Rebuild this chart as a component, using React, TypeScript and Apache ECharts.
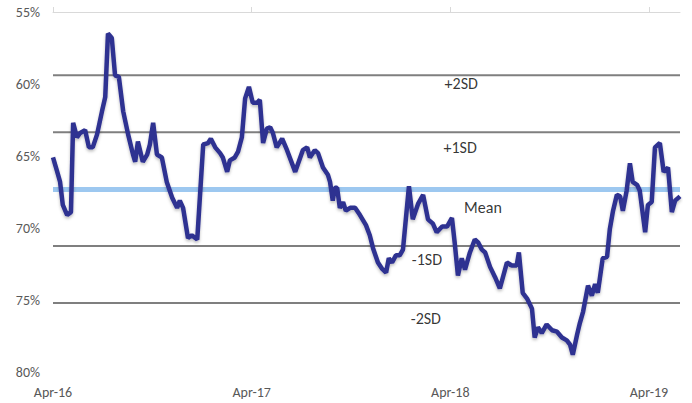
import React, { useEffect, useRef } from "react";
import * as echarts from "echarts";

// Observation dates and values (%)
const dates: string[] = [
  "2016-04-01","2016-04-08","2016-04-14","2016-04-19","2016-04-27","2016-05-04","2016-05-08","2016-05-15","2016-05-21","2016-05-30",
  "2016-06-06","2016-06-13","2016-06-21","2016-06-30","2016-07-06","2016-07-11","2016-07-18","2016-07-24","2016-07-31","2016-08-08",
  "2016-08-17","2016-08-26","2016-08-30","2016-09-04","2016-09-13","2016-09-21","2016-09-26","2016-10-02","2016-10-09","2016-10-18",
  "2016-10-27","2016-11-06","2016-11-15","2016-11-20","2016-11-26","2016-12-05","2016-12-12","2016-12-22","2017-01-02","2017-01-11",
  "2017-01-16","2017-01-24","2017-02-02","2017-02-07","2017-02-15","2017-02-20","2017-03-01","2017-03-07","2017-03-14","2017-03-20",
  "2017-03-27","2017-04-03","2017-04-11","2017-04-16","2017-04-22","2017-04-29","2017-05-05","2017-05-10","2017-05-17","2017-05-27",
  "2017-06-05","2017-06-20","2017-07-04","2017-07-12","2017-07-17","2017-07-26","2017-08-01","2017-08-10","2017-08-19","2017-08-23",
  "2017-08-28","2017-09-01","2017-09-05","2017-09-10","2017-09-16","2017-09-21","2017-09-29","2017-10-08","2017-10-17","2017-10-28",
  "2017-11-04","2017-11-10","2017-11-19","2017-11-26","2017-12-04","2017-12-09","2017-12-15","2017-12-22","2017-12-29","2018-01-04",
  "2018-01-15","2018-01-22","2018-02-01","2018-02-10","2018-02-19","2018-02-28","2018-03-07","2018-03-17","2018-03-26","2018-04-04",
  "2018-04-09","2018-04-15","2018-04-22","2018-04-28","2018-05-07","2018-05-16","2018-05-22","2018-05-29","2018-06-04","2018-06-13",
  "2018-06-22","2018-07-01","2018-07-14","2018-07-23","2018-08-01","2018-08-05","2018-08-12","2018-08-20","2018-08-29","2018-09-03",
  "2018-09-09","2018-09-16","2018-09-25","2018-10-05","2018-10-14","2018-10-23","2018-11-01","2018-11-07","2018-11-12","2018-11-20",
  "2018-11-25","2018-12-01","2018-12-10","2018-12-17","2018-12-23","2018-12-28","2019-01-06","2019-01-14","2019-01-19","2019-01-25",
  "2019-02-01","2019-02-07","2019-02-12","2019-02-19","2019-02-25","2019-03-02","2019-03-10","2019-03-15","2019-03-25","2019-03-30",
  "2019-04-06","2019-04-12","2019-04-21","2019-04-28","2019-05-06","2019-05-13","2019-05-19","2019-05-28"
];
const values: number[] = [
  65.1,66.0,66.8,68.4,69.1,68.9,62.7,63.7,63.4,63.2,
  64.4,64.4,63.5,61.9,60.9,56.5,56.8,59.4,59.5,61.9,
  63.5,64.9,65.4,64.0,65.4,64.9,64.2,62.7,64.9,65.1,
  66.8,67.9,68.6,68.1,68.6,70.7,70.5,70.8,64.2,64.1,
  63.8,64.4,64.8,65.1,66.1,65.3,65.1,64.7,63.7,61.0,
  60.2,61.3,61.3,61.1,64.1,63.1,63.0,63.4,64.4,63.8,
  64.6,66.1,64.6,64.4,65.1,64.6,64.8,65.8,66.3,66.8,
  68.1,67.2,67.2,68.6,68.2,68.8,68.6,68.6,69.1,69.8,
  70.5,71.4,72.4,72.8,73.1,72.1,72.4,71.9,71.9,71.5,
  67.1,69.4,68.3,67.7,69.4,69.7,70.3,69.9,69.9,69.3,
  71.0,73.3,72.1,72.9,71.7,70.8,71.0,71.5,71.7,72.7,
  73.4,74.2,72.4,72.6,72.6,71.7,74.5,74.9,75.6,77.6,
  76.9,77.3,76.7,77.1,77.2,77.6,77.8,78.1,78.8,77.4,
  76.6,75.8,74.0,74.7,73.9,74.5,72.1,72.0,70.1,68.8,
  67.7,67.8,68.8,67.4,65.5,66.8,67.0,67.4,70.3,68.4,
  68.2,64.4,64.1,66.1,65.8,68.9,68.1,67.8
];

// Reference bands (mean ± SD)
const bandNames: string[] = ["+2SD", "+1SD", "Mean", "-1SD", "-2SD"];
const bandValues: number[] = [59.4, 63.35, 67.33, 71.25, 75.2];

// Axis ticks
const xTickDates: string[] = ["2016-04-01", "2017-04-01", "2018-04-01", "2019-04-01"];
const xTickLabels: string[] = ["Apr-16", "Apr-17", "Apr-18", "Apr-19"];
const xStartDate = "2016-04-01";
const xEndDate = "2019-05-28";
const yTicks: number[] = [55, 60, 65, 70, 75, 80];

const BASE = Date.UTC(2016, 3, 1);
const toDay = (s: string): number => {
  const [y, m, d] = s.split("-").map(Number);
  return Math.round((Date.UTC(y, m - 1, d) - BASE) / 86400000);
};

const FONT = 'Carlito, Calibri, "Noto Sans", sans-serif';

export default function App() {
  const ref = useRef<HTMLDivElement>(null);

  useEffect(() => {
    document.body.style.margin = "0";
    if (!ref.current) return;
    const chart = echarts.init(ref.current, undefined, { renderer: "svg" });

    const tickDays = xTickDates.map(toDay);
    const x0 = toDay(xStartDate);
    const x1 = toDay(xEndDate);
    const lineData = dates.map((d, i) => [toDay(d), values[i]]);

    // label anchor positions (styling): [date, value] for each band label
    const labelAnchors: [string, number][] = [
      ["2018-04-21", 59.95],
      ["2018-04-19", 64.4],
      ["2018-05-31", 68.55],
      ["2018-02-17", 72.2],
      ["2018-02-15", 76.3],
    ];

    const bandSeries = bandValues.map((v, i) => {
      const isMean = bandNames[i] === "Mean";
      return {
        type: "line",
        name: bandNames[i],
        xAxisIndex: 0,
        data: [
          [x0, v],
          [x1, v],
        ],
        symbol: "none",
        silent: true,
        z: 1,
        lineStyle: isMean
          ? { color: "#9dc8f0", width: 5 }
          : { color: "#7f7f7f", width: 2 },
      };
    });

    const option: any = {
      animation: false,
      textStyle: { fontFamily: FONT },
      grid: { left: 53, right: 12, top: 12, bottom: 31, containLabel: false },
      xAxis: [
        {
          type: "value",
          position: "top",
          min: x0,
          max: x1,
          axisLine: { show: true, lineStyle: { color: "#d9d9d9", width: 1 } },
          axisTick: {
            show: true,
            length: 5,
            inside: false,
            customValues: tickDays,
            lineStyle: { color: "#d9d9d9" },
          },
          axisLabel: { show: false },
          splitLine: { show: false },
        },
        {
          type: "value",
          position: "bottom",
          min: x0,
          max: x1,
          axisLine: { show: false },
          axisTick: { show: false },
          splitLine: { show: false },
          axisLabel: {
            show: true,
            customValues: tickDays,
            margin: 13,
            color: "#595959",
            fontSize: 14,
            fontFamily: FONT,
            formatter: (v: number) => {
              const i = tickDays.indexOf(Math.round(v));
              return i >= 0 ? xTickLabels[i] : "";
            },
          },
        },
      ],
      yAxis: {
        type: "value",
        inverse: true,
        min: yTicks[0],
        max: yTicks[yTicks.length - 1],
        interval: 5,
        axisLine: { show: false },
        axisTick: { show: false },
        splitLine: { show: false },
        axisLabel: {
          margin: 13,
          color: "#595959",
          fontSize: 14,
          fontFamily: FONT,
          formatter: (v: number) => `${v}%`,
        },
      },
      series: [
        ...bandSeries,
        {
          type: "line",
          name: "Series",
          xAxisIndex: 0,
          data: lineData,
          symbol: "none",
          z: 3,
          lineStyle: {
            color: "#2f3191",
            width: 4.5,
            shadowColor: "rgba(0,0,0,0.25)",
            shadowBlur: 3,
            shadowOffsetY: 2,
          },
        },
        {
          type: "scatter",
          xAxisIndex: 0,
          symbolSize: 0,
          silent: true,
          z: 4,
          data: labelAnchors.map((a, i) => ({
            name: bandNames[i],
            value: [toDay(a[0]), a[1]],
          })),
          label: {
            show: true,
            position: "inside",
            formatter: (p: any) => p.name,
            color: "#000000",
            fontSize: 16,
            fontFamily: FONT,
          },
        },
      ],
    };

    chart.setOption(option);
    return () => chart.dispose();
  }, []);

  return <div ref={ref} style={{ width: 692, height: 403 }} />;
}
